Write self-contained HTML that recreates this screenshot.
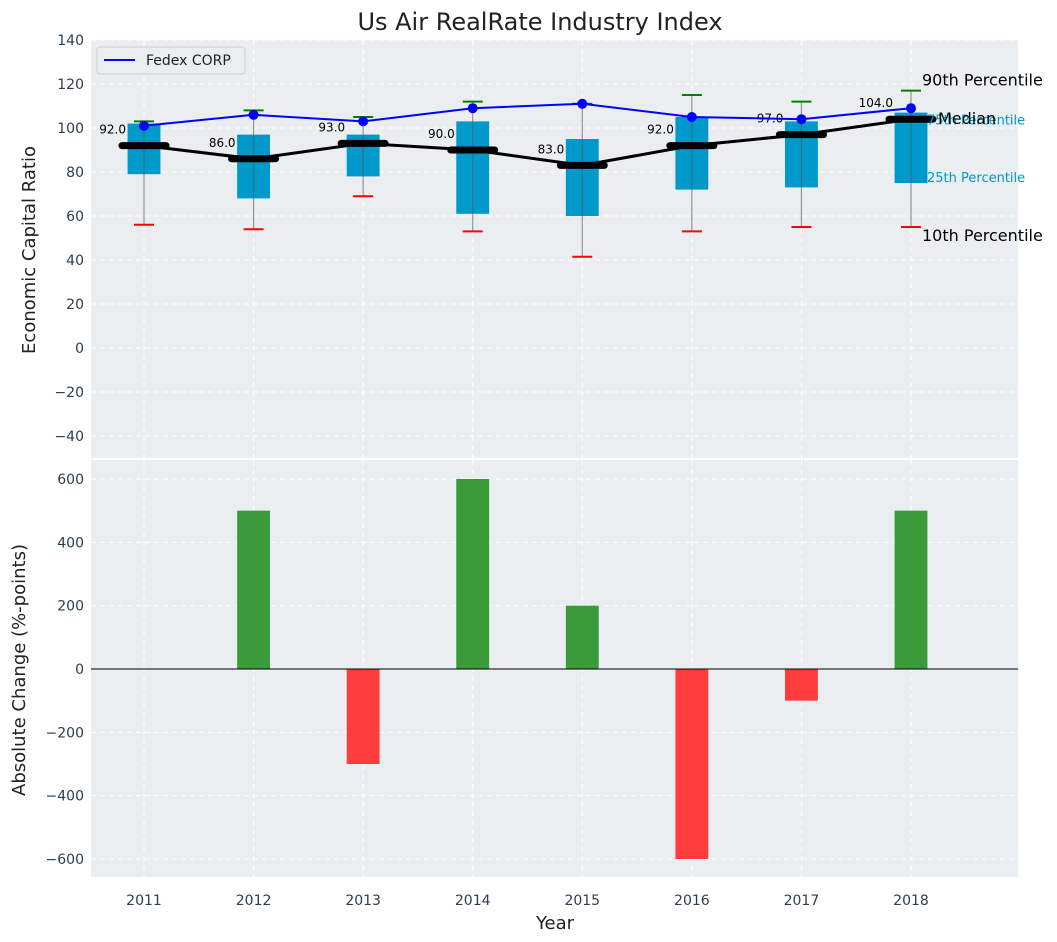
<!DOCTYPE html>
<html><head><meta charset="utf-8"><style>
body{margin:0;background:#fff;}
svg{display:block;font-family:"DejaVu Sans","Liberation Sans",sans-serif;}
</style></head><body>
<svg id="c" width="1057" height="942"></svg>
<script>
const years=[2011,2012,2013,2014,2015,2016,2017,2018];
const p10=[56,54,69,53,41.5,53,55,55];
const p25=[79,68,78,61,60,72,73,75];
const median=[92,86,93,90,83,92,97,104];
const p75=[102,97,97,103,95,105,103,107];
const p90=[103,108,105,112,111,115,112,117];
const fedex=[101,106,103,109,111,105,104,109];
const changes=[0,500,-300,600,200,-600,-100,500];
const topTicks=[-40,-20,0,20,40,60,80,100,120,140];
const botTicks=[-600,-400,-200,0,200,400,600];

const NS="http://www.w3.org/2000/svg";
const svg=document.getElementById('c');
function el(t,a,p){const e=document.createElementNS(NS,t);for(const k in a)e.setAttribute(k,a[k]);(p||svg).appendChild(e);return e;}
const L=91,R=1018;
const x=v=>144+(v-2011)*(911-144)/7;
const yT=v=>348-v*2.2;
const yB=v=>669-v*(190/600);
const px=109.57;

let r=el('rect',{x:L,y:40,width:R-L,height:418,fill:'#eaeef0'});

r=el('rect',{x:L,y:460,width:R-L,height:417,fill:'#eaeef0'});


topTicks.forEach(t=>{
  el('line',{x1:L,x2:R,y1:yT(t),y2:yT(t),stroke:'#fff','stroke-dasharray':'5,4','stroke-width':1});
  const tx=el('text',{x:84,y:yT(t)+5,'text-anchor':'end','font-size':14,fill:'#2c3e50'});
  tx.textContent=t<0?'\u2212'+(-t):t;
  
});
botTicks.forEach(t=>{
  el('line',{x1:L,x2:R,y1:yB(t),y2:yB(t),stroke:'#fff','stroke-dasharray':'5,4','stroke-width':1});
  const tx=el('text',{x:84,y:yB(t)+5,'text-anchor':'end','font-size':14,fill:'#2c3e50'});
  tx.textContent=t<0?'\u2212'+(-t):t;
  
});
years.forEach(yr=>{
  el('line',{x1:x(yr),x2:x(yr),y1:40,y2:458,stroke:'#fff','stroke-dasharray':'5,4'});
  el('line',{x1:x(yr),x2:x(yr),y1:460,y2:877,stroke:'#fff','stroke-dasharray':'5,4'});
  const tx=el('text',{x:x(yr),y:905,'text-anchor':'middle','font-size':14,fill:'#2c3e50'});
  tx.textContent=yr;
});

const bw=0.3*px;
years.forEach((yr,i)=>{
  const b=el('rect',{x:x(yr)-bw/2,y:yT(p75[i]),width:bw,height:yT(p25[i])-yT(p75[i]),fill:'#0099cc'});
  
  el('line',{x1:x(yr),x2:x(yr),y1:yT(p10[i]),y2:yT(p90[i]),stroke:'#555','stroke-opacity':0.6,'stroke-width':1.2});
  const c1=el('line',{x1:x(yr)-10,x2:x(yr)+10,y1:yT(p10[i]),y2:yT(p10[i]),stroke:'red','stroke-width':2});
  
  const c2=el('line',{x1:x(yr)-10,x2:x(yr)+10,y1:yT(p90[i]),y2:yT(p90[i]),stroke:'green','stroke-width':2});
  
});
let pts=years.map((yr,i)=>x(yr)+','+yT(median[i])).join(' ');
let ml=el('polyline',{points:pts,fill:'none',stroke:'#000','stroke-width':3});

years.forEach((yr,i)=>{
  const m=el('line',{x1:x(yr)-22,x2:x(yr)+22,y1:yT(median[i]),y2:yT(median[i]),stroke:'#000','stroke-width':7,'stroke-linecap':'round'});
  
  const t=el('text',{x:x(yr)-18,y:yT(median[i])-12,'text-anchor':'end','font-size':12,fill:'#000'});
  t.textContent=median[i].toFixed(1);
});
pts=years.map((yr,i)=>x(yr)+','+yT(fedex[i])).join(' ');
let fl=el('polyline',{points:pts,fill:'none',stroke:'blue','stroke-width':2});

years.forEach((yr,i)=>{
  const c=el('circle',{cx:x(yr),cy:yT(fedex[i]),r:5,fill:'blue'});
  
});
const lx=x(2018);
[['90th Percentile',p90[7],'#000',16,11,-10,'p90-label'],['10th Percentile',p10[7],'#000',16,11,9,'p10-label'],
 ['75th Percentile',p75[7],'#0099cc',13,16,7,'p75-label'],['25th Percentile',p25[7],'#0099cc',13,16,-6,'p25-label'],
 ['Median',median[7],'#000',16,27,0,'median-text']].forEach(a=>{
  const t=el('text',{x:lx+a[4],y:yT(a[1])+a[5]+5,'font-size':a[3],fill:a[2]});
  t.textContent=a[0];
});

years.forEach((yr,i)=>{
  const v=changes[i];if(v===0)return;
  const b=el('rect',{x:x(yr)-bw/2,y:Math.min(yB(v),yB(0)),width:bw,height:Math.abs(yB(v)-yB(0)),fill:v>0?'#3b9b3b':'#ff3d3d'});
  
});
el('line',{x1:L,x2:R,y1:yB(0),y2:yB(0),stroke:'#000','stroke-width':1});

const lg=el('g',{});
el('rect',{x:97,y:47,width:148,height:27,rx:3,fill:'#eaeef0',stroke:'#ccc'},lg);
el('line',{x1:104,x2:135,y1:60,y2:60,stroke:'blue','stroke-width':2},lg);
let lt=el('text',{x:146,y:65,'font-size':14,fill:'#222'},lg);lt.textContent='Fedex CORP';

let t=el('text',{x:540,y:30,'text-anchor':'middle','font-size':24,fill:'#222'});t.textContent='Us Air RealRate Industry Index';

t=el('text',{x:555,y:929,'text-anchor':'middle','font-size':18,fill:'#222'});t.textContent='Year';

t=el('text',{x:0,y:0,'text-anchor':'middle','font-size':18,fill:'#222',transform:'translate(35,250) rotate(-90)'});t.textContent='Economic Capital Ratio';

t=el('text',{x:0,y:0,'text-anchor':'middle','font-size':18,fill:'#222',transform:'translate(25,670) rotate(-90)'});t.textContent='Absolute Change (%-points)';

</script>
</body></html>
